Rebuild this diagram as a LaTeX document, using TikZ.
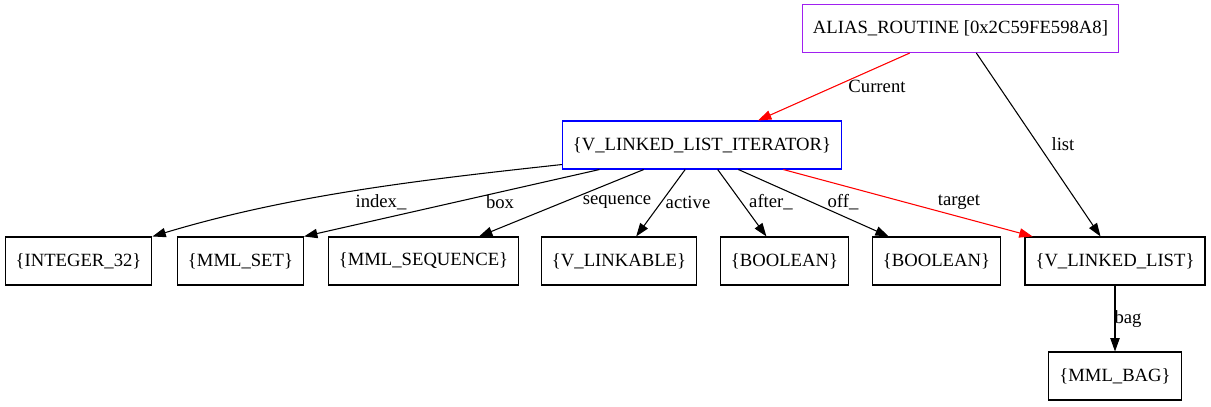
\documentclass[tikz,border=0pt]{standalone}
\usepackage{fontspec}
\setmainfont{Liberation Serif}
\usetikzlibrary{arrows.meta,calc}
\definecolor{gvpurple}{HTML}{A020F0}
\begin{document}
\begin{tikzpicture}[x=0.75pt,y=-0.75pt,
  every node/.style={font=\fontsize{14pt}{16pt}\selectfont},
  box/.style={draw,line width=0.8pt,inner xsep=7.9pt,inner ysep=0pt,minimum height=36pt,anchor=center},
  edge/.style={line width=0.8pt,-{Triangle[length=10pt,width=7pt]}},
  redge/.style={edge,draw=red,-{Triangle[length=10pt,width=7pt,fill=red]}},
  lbl/.style={inner sep=0pt,anchor=center}]
\useasboundingbox (0,0) rectangle (1211,407);
% nodes
\node[box,draw=gvpurple] (alias) at (960.5,28.5) {ALIAS\_ROUTINE [0x2C59FE598A8]};
\node[box,draw=blue] (iter) at (702,145) {\{V\_LINKED\_LIST\_ITERATOR\}};
\node[box] (int) at (78.5,261) {\{INTEGER\_32\}};
\node[box] (set) at (240.5,261) {\{MML\_SET\}};
\node[box] (seq) at (423.5,261) {\{MML\_SEQUENCE\}};
\node[box] (lnk) at (619,261) {\{V\_LINKABLE\}};
\node[box] (bool1) at (784.5,261) {\{BOOLEAN\}};
\node[box] (bool2) at (936.5,261) {\{BOOLEAN\}};
\node[box] (list) at (1115,261) {\{V\_LINKED\_LIST\}};
\node[box] (bag) at (1115,376) {\{MML\_BAG\}};
% edge end points on the borders
\coordinate (aCur) at ($(alias.south west)!0.34!(alias.south east)$);
\coordinate (aList) at ($(alias.south west)!0.55!(alias.south east)$);
\coordinate (iCur) at ($(iter.north west)!0.70!(iter.north east)$);
\coordinate (iInt) at ($(iter.south west)+(0,-5)$);
\coordinate (iSet) at ($(iter.south west)!0.134!(iter.south east)$);
\coordinate (iSeq) at ($(iter.south west)!0.292!(iter.south east)$);
\coordinate (iLnk) at ($(iter.south west)!0.44!(iter.south east)$);
\coordinate (iB1) at ($(iter.south west)!0.556!(iter.south east)$);
\coordinate (iB2) at ($(iter.south west)!0.63!(iter.south east)$);
\coordinate (iTgt) at ($(iter.south west)!0.79!(iter.south east)$);
\coordinate (tSeq) at ($(seq.north west)!0.79!(seq.north east)$);
\coordinate (tLnk) at ($(lnk.north west)!0.61!(lnk.north east)$);
\coordinate (tB1) at ($(bool1.north west)!0.36!(bool1.north east)$);
\coordinate (tB2) at ($(bool2.north west)!0.13!(bool2.north east)$);
\coordinate (tTgt) at ($(list.north west)!0.045!(list.north east)$);
\coordinate (tList) at ($(list.north west)!0.42!(list.north east)$);
% edges
\draw[redge] (aCur) -- (iCur);
\draw[edge] (aList) -- (tList);
\draw[edge] (iInt) .. controls (420,180) and (290,195) .. (int.north east);
\draw[edge] (iSet) -- (set.north east);
\draw[edge] (iSeq) -- (tSeq);
\draw[edge] (iLnk) -- (tLnk);
\draw[edge] (iB1) -- (tB1);
\draw[edge] (iB2) -- (tB2);
\draw[redge] (iTgt) -- (tTgt);
\draw[edge] (list.south) -- (bag.north);
% labels
\node[lbl] (lCur) at (877,86) {Current};
\node[lbl] (lList) at (1063,144) {list};
\node[lbl] (lIdx) at (381,202) {index\_};
\node[lbl] (lBox) at (500,202) {box};
\node[lbl] (lSeq) at (617,202) {sequence};
\node[lbl] (lAct) at (688,202) {active};
\node[lbl] (lAft) at (771,202) {after\_};
\node[lbl] (lOff) at (843,202) {off\_};
\node[lbl] (lTgt) at (959,202) {target};
\node[lbl] (lBag) at (1128,319) {bag};
\end{tikzpicture}
\end{document}
